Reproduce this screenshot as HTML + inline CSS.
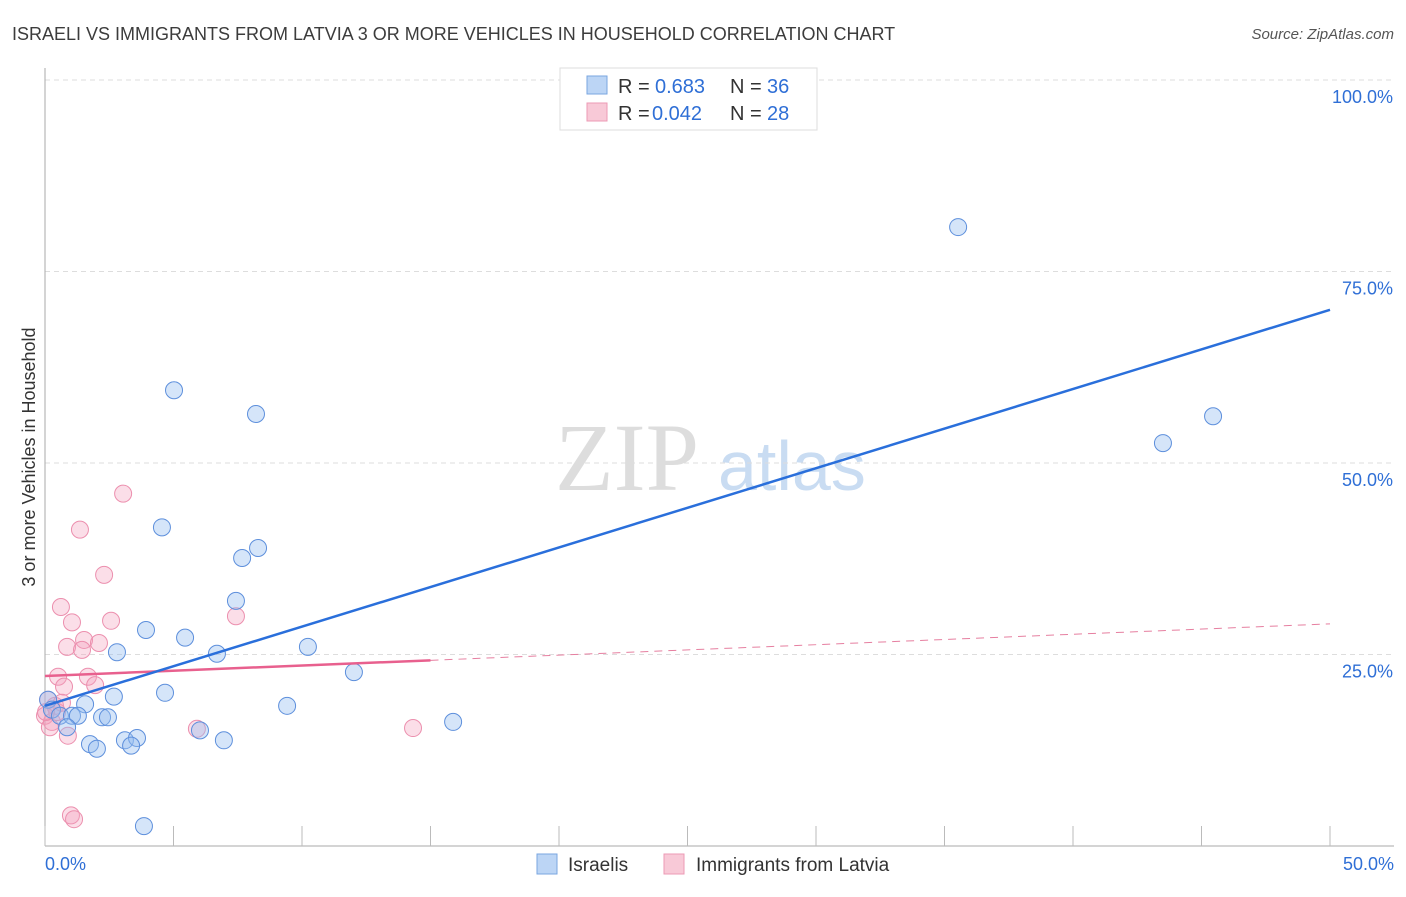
<!DOCTYPE html>
<html><head><meta charset="utf-8"><style>
body{margin:0;background:#fff;font-family:"Liberation Sans",sans-serif;}
</style></head><body>
<svg id="chart" width="1406" height="892" xmlns="http://www.w3.org/2000/svg">
<text x="12" y="40" font-size="18" fill="#3c3c3c">ISRAELI VS IMMIGRANTS FROM LATVIA 3 OR MORE VEHICLES IN HOUSEHOLD CORRELATION CHART</text>
<text x="1394" y="39" font-size="15" fill="#555" font-style="italic" text-anchor="end">Source: ZipAtlas.com</text>
<text x="35" y="457" font-size="18" fill="#333" text-anchor="middle" transform="rotate(-90 35 457)">3 or more Vehicles in Household</text>
<g><text x="555" y="490" font-size="96" fill="#ddd" font-family="Liberation Serif,serif">ZIP</text><text x="718" y="490" font-size="70" fill="#c9dcf2">atlas</text></g>
<g id="grid"></g><g id="axes"></g><g id="marks"></g>
<g>
<rect x="560" y="68" width="257" height="62" fill="#fff" stroke="#ddd"/>
<rect x="587" y="76" width="20" height="18" fill="#bcd5f5" stroke="#7aa6e0"/>
<text x="618" y="93" font-size="20" fill="#333">R =</text><text x="655" y="93" font-size="20" fill="#2f6fd6">0.683</text>
<text x="730" y="93" font-size="20" fill="#333">N =</text><text x="767" y="93" font-size="20" fill="#2f6fd6">36</text>
<rect x="587" y="103" width="20" height="18" fill="#f8c9d7" stroke="#ec9ab4"/>
<text x="618" y="120" font-size="20" fill="#333">R =</text><text x="652" y="120" font-size="20" fill="#2f6fd6">0.042</text>
<text x="730" y="120" font-size="20" fill="#333">N =</text><text x="767" y="120" font-size="20" fill="#2f6fd6">28</text>
</g>
<g>
<rect x="537" y="854" width="20" height="20" fill="#bcd5f5" stroke="#7aa6e0"/>
<text x="568" y="871" font-size="19" fill="#333">Israelis</text>
<rect x="664" y="854" width="20" height="20" fill="#f8c9d7" stroke="#ec9ab4"/>
<text x="696" y="871" font-size="19" fill="#333">Immigrants from Latvia</text>
</g>
</svg>
<script>
const blueX=[35.53,45.45,43.5,5.02,8.21,4.55,8.29,7.67,7.43,3.93,5.45,2.80,6.69,10.23,12.02,4.67,2.68,1.56,9.42,15.88,0.12,0.27,0.58,1.05,1.28,2.22,2.45,0.86,1.75,2.02,3.11,3.58,3.35,6.96,6.03,3.85];
const blueY=[80.8,56.1,52.6,59.5,56.4,41.6,38.9,37.6,32.0,28.2,27.2,25.3,25.1,26.0,22.7,20.0,19.5,18.5,18.3,16.2,19.1,17.8,17.0,17.0,17.0,16.8,16.8,15.5,13.3,12.7,13.8,14.1,13.1,13.8,15.1,2.6];
const pinkX=[3.04,1.36,2.30,0.62,1.05,2.57,1.52,2.10,0.86,1.44,0.51,1.67,0.74,1.95,7.43,0.12,0.39,0,0.27,0.19,0.89,5.91,14.32,1.01,1.13,0.47,0.66,0.04];
const pinkY=[46.0,41.3,35.4,31.2,29.2,29.4,26.9,26.5,26.0,25.6,22.1,22.1,20.8,21.0,30.0,19.1,18.3,17.0,16.2,15.5,14.4,15.3,15.4,4.0,3.5,17.5,18.7,17.5];
const blueTrend=[18.3,70.0];
const pinkTrend=[22.2,29.0];
const pinkSolidEnd=15;
const yTicks=[25,50,75,100];
const xTickLabels=["0.0%","50.0%"];
const X=v=>45+v*25.7, Y=v=>846-v*7.66;
const NS="http://www.w3.org/2000/svg";
function mk(t,a,p){const e=document.createElementNS(NS,t);for(const k in a)e.setAttribute(k,a[k]);p.appendChild(e);return e;}
const grid=document.getElementById('grid'),axes=document.getElementById('axes'),marks=document.getElementById('marks');
yTicks.forEach(t=>{
 const l=mk('line',{x1:45,x2:1394,y1:Y(t),y2:Y(t),stroke:'#ddd','stroke-dasharray':'5,4'},grid);
 
 
 const tx=mk('text',{x:1393,y:Y(t)+23,'font-size':18,fill:'#2f6fd6','text-anchor':'end'},axes);tx.textContent=t.toFixed(1)+'%';
 
 
});
const ax=mk('line',{x1:45,x2:45,y1:68,y2:846,stroke:'#aaa'},axes);


const bx=mk('line',{x1:45,x2:1394,y1:846,y2:846,stroke:'#aaa'},axes);


for(let i=0;i<=10;i++){const t=mk('line',{x1:X(i*5),x2:X(i*5),y1:826,y2:846,stroke:'#bbb'},axes);
 
 }
[[0,'start',45],[50,'end',1394]].forEach((d,i)=>{const t=mk('text',{x:d[2],y:870,'font-size':18,fill:'#2f6fd6','text-anchor':d[1]},axes);t.textContent=xTickLabels[i];
 
 });
pinkX.forEach((x,i)=>{const c=mk('circle',{cx:X(x),cy:Y(pinkY[i]),r:8.5,fill:'rgba(244,160,190,0.35)',stroke:'#ec8fae','stroke-width':1},marks);
 
 });
blueX.forEach((x,i)=>{const c=mk('circle',{cx:X(x),cy:Y(blueY[i]),r:8.5,fill:'rgba(150,190,240,0.4)',stroke:'#5d8fdc','stroke-width':1},marks);
 
 });
const pv=x=>pinkTrend[0]+(pinkTrend[1]-pinkTrend[0])*x/50;
const pd=mk('line',{x1:X(pinkSolidEnd),y1:Y(pv(pinkSolidEnd)),x2:X(50),y2:Y(pinkTrend[1]),stroke:'#e67fa0','stroke-width':1,'stroke-dasharray':'8,6'},marks);


const ps=mk('line',{x1:X(0),y1:Y(pinkTrend[0]),x2:X(pinkSolidEnd),y2:Y(pv(pinkSolidEnd)),stroke:'#e8608e','stroke-width':2.5},marks);


const bt=mk('line',{x1:X(0),y1:Y(blueTrend[0]),x2:X(50),y2:Y(blueTrend[1]),stroke:'#2a6fdb','stroke-width':2.5},marks);


</script>
</body></html>
